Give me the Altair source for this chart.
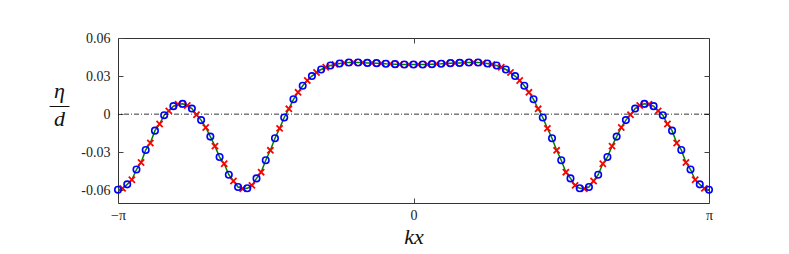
import math
import pandas as pd
import altair as alt

# ---- data ----
N = 64  # intervals on [-pi, pi]

# blue circles at kx = -pi + 2*pi*j/64, j = 0..64
circle_eta = [
    -0.0595, -0.0553, -0.0436, -0.0282, -0.0130, -0.0008, 0.0063, 0.0081,
    0.0044, -0.0047, -0.0177, -0.0338, -0.0477, -0.0574, -0.0584, -0.0506,
    -0.0363, -0.0190, -0.0026, 0.0117, 0.0224, 0.0300, 0.0352, 0.0383,
    0.0399, 0.0407, 0.0407, 0.0404, 0.0402, 0.0397, 0.0394, 0.0391,
    0.0391,
    0.0391, 0.0394, 0.0397, 0.0402, 0.0404, 0.0407, 0.0407, 0.0399,
    0.0383, 0.0352, 0.0300, 0.0224, 0.0117, -0.0026, -0.0190, -0.0363,
    -0.0506, -0.0584, -0.0574, -0.0477, -0.0338, -0.0177, -0.0047, 0.0044,
    0.0081, 0.0063, -0.0008, -0.0130, -0.0282, -0.0436, -0.0553, -0.0595,
]

# red crosses half-way between the circles
cross_eta = [
    -0.0585, -0.0517, -0.0381, -0.0227, -0.0078, 0.0026, 0.0078, 0.0068,
    -0.0005, -0.0105, -0.0252, -0.0391, -0.0527, -0.0587, -0.0561, -0.0457,
    -0.0285, -0.0112, 0.0042, 0.0172, 0.0265, 0.0328, 0.0370, 0.0392,
    0.0404, 0.0408, 0.0406, 0.0403, 0.0400, 0.0396, 0.0392, 0.0391,
    0.0391, 0.0392, 0.0396, 0.0400, 0.0403, 0.0406, 0.0408, 0.0404,
    0.0392, 0.0370, 0.0328, 0.0265, 0.0172, 0.0042, -0.0112, -0.0285,
    -0.0457, -0.0561, -0.0587, -0.0527, -0.0391, -0.0252, -0.0105, -0.0005,
    0.0068, 0.0078, 0.0026, -0.0078, -0.0227, -0.0381, -0.0517, -0.0585,
]

x_ticks = [-math.pi, 0.0, math.pi]
y_ticks = [-0.06, -0.03, 0.0, 0.03, 0.06]

circle_x = [-math.pi + 2 * math.pi * j / N for j in range(N + 1)]
cross_x = [-math.pi + 2 * math.pi * (k + 0.5) / N for k in range(N)]

circles = pd.DataFrame({"x": circle_x, "y": circle_eta})
crosses = pd.DataFrame({"x": cross_x, "y": cross_eta})
line_df = pd.concat([circles, crosses]).sort_values("x").reset_index(drop=True)
zero_df = pd.DataFrame({"y": [0.0]})

SERIF = "'Liberation Serif', 'DejaVu Serif', serif"
x_scale = alt.Scale(domain=[-math.pi, math.pi], nice=False, zero=False)
y_scale = alt.Scale(domain=[-0.07, 0.06], nice=False, zero=False)

x_axis = alt.Axis(
    values=x_ticks, title="kx", offset=-5, tickSize=5, domain=False, grid=False,
    labelExpr="datum.value < -1 ? '−π' : (datum.value > 1 ? 'π' : '0')",
    labelFlush=False, labelOverlap=False,
    labelPadding=5, labelFontSize=14, labelFont=SERIF, labelColor="#222",
    titleFont=SERIF, titleFontStyle="italic", titleFontWeight="normal",
    titleFontSize=22, titlePadding=4, titleColor="#111", tickColor="#444",
)
y_axis = alt.Axis(
    values=y_ticks, title=["η", "—", "d"], offset=-5, tickSize=5, domain=False,
    grid=False, labelFlush=False, labelOverlap=False,
    labelExpr="datum.value == 0 ? '0' : (datum.value < 0 ? '-' : '') + format(abs(datum.value), '.2f')",
    labelPadding=8, labelFontSize=14, labelFont=SERIF, labelColor="#222",
    titleFont=SERIF, titleFontStyle="italic", titleFontWeight="normal",
    titleFontSize=22, titleAngle=0, titleAlign="center", titleBaseline="middle",
    titleLineHeight=14, titleX=-64, titleY=52, titleColor="#111", tickColor="#444",
)

X = alt.X("x:Q", scale=x_scale, axis=x_axis)
Y = alt.Y("y:Q", scale=y_scale, axis=y_axis)

line = alt.Chart(line_df).mark_line(color="#008000", strokeWidth=1.5).encode(x=X, y=Y)
zero = alt.Chart(zero_df).mark_rule(
    color="#000000", strokeWidth=0.8, strokeDash=[5, 2, 1, 2]
).encode(y=Y)
cross_mark = alt.Chart(crosses).mark_point(
    shape="M-1,-1L1,1M-1,1L1,-1", filled=False, color="#ff0000",
    strokeWidth=1.8, size=38, opacity=1,
).encode(x=X, y=Y)
circle_mark = alt.Chart(circles).mark_point(
    shape="circle", filled=False, color="#0000ff", strokeWidth=1.6, size=42,
    opacity=1,
).encode(x=X, y=Y)

main = alt.layer(line, zero, cross_mark, circle_mark)

mirror = alt.Chart(circles).mark_point(opacity=0).encode(
    x=alt.X("x:Q", scale=x_scale, axis=alt.Axis(
        orient="top", values=[0.0], offset=-5, tickSize=5, labels=False,
        domain=False, grid=False, title=None, tickColor="#444")),
    y=alt.Y("y:Q", scale=y_scale, axis=alt.Axis(
        orient="right", values=y_ticks, offset=-5, tickSize=5, labels=False,
        domain=False, grid=False, title=None, tickColor="#444")),
)

chart = alt.layer(main, mirror).resolve_scale(
    x="independent", y="independent"
).properties(
    width=591, height=165, autosize="none",
    padding={"left": 110, "top": 30, "right": 72, "bottom": 46},
    background="white",
).configure_view(stroke="#333", strokeWidth=1)

chart.save("out.html", embed_options={"renderer": "svg", "actions": False})
